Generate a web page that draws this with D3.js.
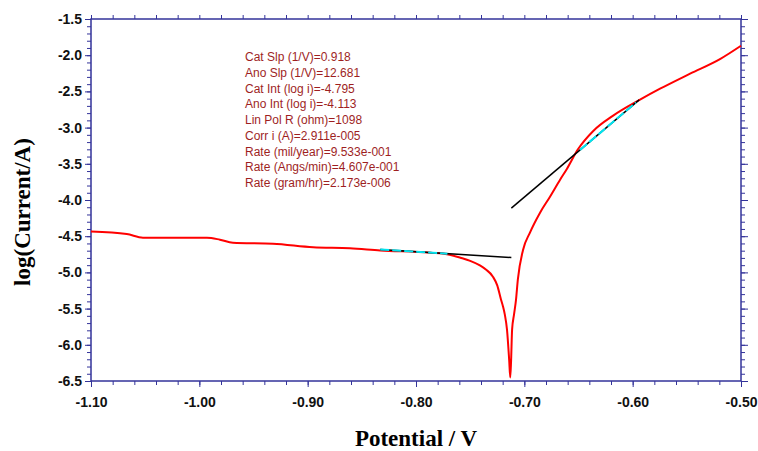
<!DOCTYPE html>
<html>
<head>
<meta charset="utf-8">
<script src="https://cdn.jsdelivr.net/npm/d3@7"></script>
<style>
  body { margin: 0; background: #fff; }
  svg { display: block; }
</style>
</head>
<body>
<div id="chart"></div>
<script>
// polarization scan (E in V, log i)
var potential = [-1.100, -1.067, -1.052, -0.993, -0.981, -0.969, -0.932, -0.895, -0.861, -0.833,
                 -0.787, -0.769, -0.759, -0.750, -0.741, -0.7355, -0.729, -0.725, -0.7215, -0.7197,
                 -0.718, -0.716, -0.714, -0.713, -0.7122, -0.7113, -0.7095, -0.7077, -0.706, -0.7012,
                 -0.6948, -0.6855, -0.6763, -0.667, -0.6606, -0.6505, -0.6366, -0.618, -0.5932, -0.5747,
                 -0.547, -0.519, -0.500];
var logCurrent = [-4.434, -4.470, -4.521, -4.521, -4.548, -4.590, -4.603, -4.652, -4.666, -4.696,
                  -4.728, -4.756, -4.797, -4.840, -4.903, -4.960, -5.059, -5.180, -5.377, -5.470,
                  -5.584, -5.790, -6.210, -6.450, -6.210, -5.790, -5.580, -5.380, -5.100, -4.690,
                  -4.450, -4.175, -3.954, -3.720, -3.568, -3.300, -3.050, -2.835, -2.614, -2.463,
                  -2.255, -2.050, -1.869];

// Tafel fit
var eCorr = -0.712;
var catSlope = 0.918, catInt = -4.795;
var anoSlope = 12.681, anoInt = -4.113;
var catLineRange = [-0.833, eCorr], catFitRange = [-0.833, -0.771];
var anoLineRange = [eCorr, -0.594], anoFitRange = [-0.6485, -0.597];

var xTicks = [-1.10, -1.00, -0.90, -0.80, -0.70, -0.60, -0.50];
var yTicks = [-1.5, -2.0, -2.5, -3.0, -3.5, -4.0, -4.5, -5.0, -5.5, -6.0, -6.5];

var results = [
  'Cat Slp (1/V)=0.918',
  'Ano Slp (1/V)=12.681',
  'Cat Int (log i)=-4.795',
  'Ano Int (log i)=-4.113',
  'Lin Pol R (ohm)=1098',
  'Corr i (A)=2.911e-005',
  'Rate (mil/year)=9.533e-001',
  'Rate (Angs/min)=4.607e-001',
  'Rate (gram/hr)=2.173e-006'
];

var W = 758, H = 451;
var margin = {top: 19, right: 17, bottom: 70, left: 91};
var width = W - margin.left - margin.right,
    height = H - margin.top - margin.bottom;
var axisColor = '#33339a';

var svg = d3.select('#chart').append('svg')
    .attr('width', W)
    .attr('height', H);

var g = svg.append('g')
    .attr('transform', 'translate(' + margin.left + ',' + margin.top + ')');

var x = d3.scaleLinear().domain([-1.10, -0.50]).range([0, width]);
var y = d3.scaleLinear().domain([-6.5, -1.5]).range([height, 0]);

var minorX = d3.range(0, 31).map(function(i) { return -1.10 + i * 0.02; });
var minorY = d3.range(0, 51).map(function(i) { return -6.5 + i * 0.1; });

// plain hyphen instead of d3's unicode minus
function fmt(p) {
    var f = d3.format('.' + p + 'f');
    return function(d) { return f(d).replace('\u2212', '-'); };
}

function styleAxis(sel) {
    sel.select('.domain').remove();
    sel.selectAll('line').attr('stroke', axisColor);
    sel.selectAll('text')
        .attr('fill', '#111')
        .style('font-family', '"Liberation Sans", Arial, sans-serif')
        .style('font-weight', 'bold')
        .style('font-size', '14px');
}

// minor ticks
g.append('g').attr('transform', 'translate(0,' + height + ')')
    .call(d3.axisBottom(x).tickValues(minorX).tickSize(4).tickFormat(''))
    .call(styleAxis);
g.append('g')
    .call(d3.axisTop(x).tickValues(minorX).tickSize(4).tickFormat(''))
    .call(styleAxis);
g.append('g')
    .call(d3.axisLeft(y).tickValues(minorY).tickSize(4).tickFormat(''))
    .call(styleAxis);
g.append('g').attr('transform', 'translate(' + width + ',0)')
    .call(d3.axisRight(y).tickValues(minorY).tickSize(4).tickFormat(''))
    .call(styleAxis);

// major ticks
g.append('g').attr('class', 'axis-x').attr('transform', 'translate(0,' + height + ')')
    .call(d3.axisBottom(x).tickValues(xTicks).tickSize(6).tickPadding(10).tickFormat(fmt(2)))
    .call(styleAxis);
g.append('g').attr('class', 'axis-y')
    .call(d3.axisLeft(y).tickValues(yTicks).tickSize(6).tickPadding(3).tickFormat(fmt(1)))
    .call(styleAxis);
g.append('g').attr('transform', 'translate(' + width + ',0)')
    .call(d3.axisRight(y).tickValues(yTicks).tickSize(7).tickFormat(''))
    .call(styleAxis);

// frame
g.append('rect')
    .attr('width', width)
    .attr('height', height)
    .attr('fill', 'none')
    .attr('stroke', axisColor)
    .attr('stroke-width', 1.5);

var line = d3.line()
    .x(function(d) { return x(d[0]); })
    .y(function(d) { return y(d[1]); });

var scan = potential.map(function(e, i) { return [e, logCurrent[i]]; });

g.append('path')
    .datum(scan)
    .attr('fill', 'none')
    .attr('stroke', '#ff0000')
    .attr('stroke-width', 2)
    .attr('stroke-linejoin', 'round')
    .attr('d', line.curve(d3.curveMonotoneX));

line.curve(d3.curveLinear);

function cat(e) { return catInt + catSlope * (eCorr - e); }
function ano(e) { return anoInt + anoSlope * (e - eCorr); }

function seg(range, f) { return range.map(function(e) { return [e, f(e)]; }); }

[seg(catLineRange, cat), seg(anoLineRange, ano)].forEach(function(d) {
    g.append('path')
        .datum(d)
        .attr('fill', 'none')
        .attr('stroke', '#000')
        .attr('stroke-width', 1.5)
        .attr('d', line);
});

[seg(catFitRange, cat), seg(anoFitRange, ano)].forEach(function(d) {
    g.append('path')
        .datum(d)
        .attr('fill', 'none')
        .attr('stroke', '#00e5f0')
        .attr('stroke-width', 2)
        .attr('stroke-dasharray', '9,3')
        .attr('d', line);
});

// fit results
svg.append('g')
    .attr('transform', 'translate(245,61)')
    .selectAll('text')
    .data(results)
    .enter().append('text')
    .attr('y', function(d, i) { return i * 15.75; })
    .attr('fill', '#9e1f1f')
    .style('font-family', '"Liberation Sans", Arial, sans-serif')
    .style('font-size', '12px')
    .text(function(d) { return d; });

// axis titles
svg.append('text')
    .attr('x', margin.left + width / 2)
    .attr('y', 446)
    .attr('text-anchor', 'middle')
    .style('font-family', '"Liberation Serif", "Times New Roman", serif')
    .style('font-weight', 'bold')
    .style('font-size', '23px')
    .text('Potential / V');

svg.append('text')
    .attr('transform', 'translate(30,212) rotate(-90)')
    .attr('text-anchor', 'middle')
    .style('font-family', '"Liberation Serif", "Times New Roman", serif')
    .style('font-weight', 'bold')
    .style('font-size', '23px')
    .text('log(Current/A)');
</script>
</body>
</html>
